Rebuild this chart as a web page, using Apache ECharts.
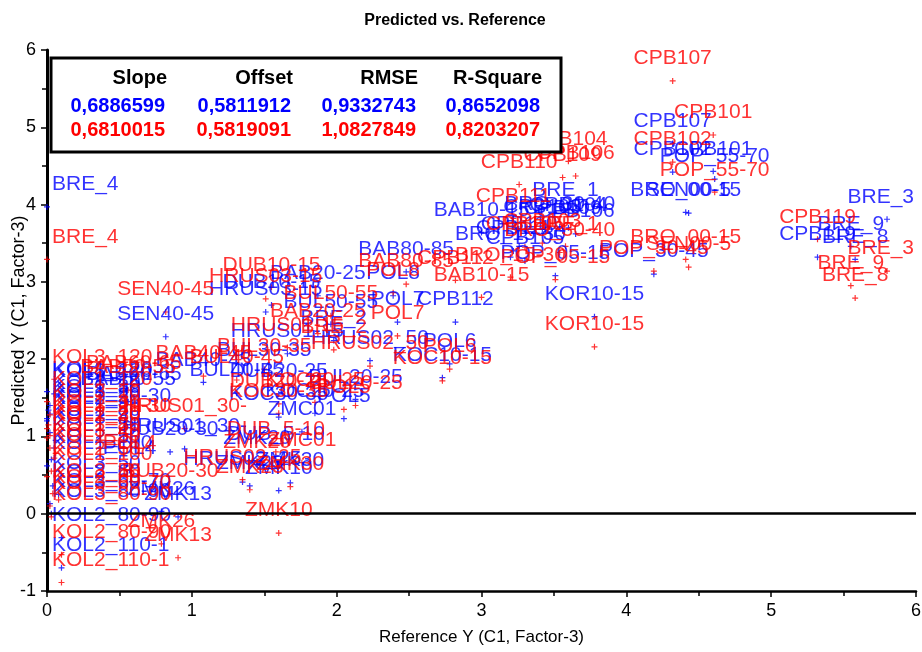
<!DOCTYPE html>
<html>
<head>
<meta charset="utf-8">
<script src="https://cdn.jsdelivr.net/npm/echarts@6/dist/echarts.min.js"></script>
<style>
  html, body { margin: 0; padding: 0; background: #fff; }
  #chart { width: 922px; height: 652px; }
</style>
</head>
<body>
<div id="chart"></div>
<script>
// sample names, reference value (x) and the two predictions (blue / red)
const sampleNames = [
  "CPB107", "CPB101", "CPB102", "POP_55-70", "BRO_00-15", "SEN00-5", "POP_30-45", "KOR10-15",
  "BRE_3", "CPB119", "BRE_9", "BRE_8", "BRE_4", "CPB104", "CPB106", "CPB109",
  "CPB110", "CPB111", "BRE_1", "BAB10-15", "BRO_30-40", "BRO_15-30", "CPB112", "POP_05-15",
  "CPB105", "CPB103", "BAB80-85", "POL8", "BAB20-25", "DUB10-15", "HRUS03-15", "BUL50-55",
  "POL7", "BRE_2", "HRUS01-15", "POL6", "HRUS02_50", "KOC10-15", "ZMC01", "POL5",
  "KOC30-35", "DUB20-25", "BUL20-25", "ZMK10", "ZMK23", "ZMK20", "DUB_5-10", "ZMK30",
  "HRUS02_25", "BUB20-30", "POL4", "HRUS01_30-", "SEN40-45", "KOL3_120", "BAB40-45", "BAB60-65",
  "BUL40-45", "BUL30-35", "BAB50-55", "KOC20-25", "KOL1_20", "KOL3_20-30", "KOL1_100", "KOL3_50",
  "KOL3_60-70", "KOL3_80-90", "KOL2_80-90", "KOL2_110-1", "KOL1_30", "KOL2_30", "KOL1_50", "KOL2_50",
  "KOL1_80", "KOL3_40", "KOL2_60", "KOL3_10", "KOL1_120", "ZMK13", "ZMK26"
];
const referenceY = [
  4.32, 4.60, 4.32, 4.61, 4.41, 4.43, 4.19, 3.78,
  5.80, 5.32, 5.55, 5.58, 0.00, 3.60, 3.65, 3.56,
  3.26, 3.22, 3.58, 3.00, 3.54, 3.20, 2.82, 3.51,
  3.30, 3.42, 2.48, 2.39, 1.87, 1.55, 1.51, 1.96,
  2.42, 1.98, 1.66, 2.78, 2.23, 2.73, 1.76, 2.05,
  1.60, 1.60, 2.13, 1.60, 1.40, 1.45, 1.58, 1.68,
  1.35, 0.85, 0.57, 0.95, 0.82, 0.05, 1.08, 0.60,
  1.31, 1.50, 0.56, 1.85, 0.02, 0.00, 0.00, 0.04,
  0.02, 0.03, 0.10, 0.10, 0.01, 0.00, 0.05, 0.03,
  0.02, 0.06, 0.08, 0.02, 0.00, 0.905, 0.79
];
const predictedBlue = [
  4.79, 4.43, 4.42, 4.33, 3.90, 3.89, 3.10, 2.55,
  3.81, 3.32, 3.46, 3.29, 3.97, 3.70, 3.62, 3.66,
  3.46, 3.40, 3.90, 3.64, 3.71, 3.32, 2.48, 3.08,
  3.27, 3.68, 3.13, 2.82, 2.82, 2.70, 2.61, 2.45,
  2.48, 2.24, 2.07, 1.94, 1.98, 1.76, 1.06, 1.23,
  1.25, 1.55, 1.48, 0.30, 0.36, 0.68, 0.74, 0.40,
  0.41, 0.80, 0.56, 0.84, 2.29, 1.55, 1.70, 1.51,
  1.56, 1.82, 1.45, 1.30, 1.29, 1.23, 0.62, 0.36,
  0.13, 0.00, -0.31, -0.70, 1.34, 1.20, 0.85, 0.70,
  1.05, 0.95, 0.25, 1.40, 1.58, -0.04, 0.03
];
const predictedRed = [
  5.60, 4.90, 4.55, 4.16, 3.29, 3.19, 3.14, 2.16,
  3.14, 3.55, 2.95, 2.79, 3.29, 4.56, 4.37, 4.35,
  4.26, 3.82, 3.46, 2.80, 3.38, 3.06, 3.02, 3.03,
  3.45, 3.50, 2.97, 2.86, 2.33, 2.93, 2.78, 2.56,
  2.30, 2.12, 2.15, 1.87, 1.91, 1.72, 0.66, 1.35,
  1.30, 1.42, 1.40, -0.25, 0.31, 0.64, 0.80, 0.35,
  0.44, 0.26, 0.62, 1.10, 2.61, 1.74, 1.78, 1.65,
  1.73, 1.87, 1.60, 1.44, 1.01, 1.10, 0.48, 0.26,
  0.10, -0.04, -0.53, -0.89, 1.15, 0.98, 0.72, 0.55,
  0.85, 0.78, 0.18, 1.28, 1.45, -0.57, -0.39
];

const statHeaders = ["Slope", "Offset", "RMSE", "R-Square"];
const statsBlue = ["0,6886599", "0,5811912", "0,9332743", "0,8652098"];
const statsRed = ["0,6810015", "0,5819091", "1,0827849", "0,8203207"];

const BLUE = "#0000ff";
const RED = "#ff0000";
const FONT = "Liberation Sans, Arial, Helvetica, sans-serif";
const plusSymbol = "path://M2,0L3,0L3,2L5,2L5,3L3,3L3,5L2,5L2,3L0,3L0,2L2,2Z";

const blueData = sampleNames.map((n, i) => [referenceY[i], predictedBlue[i], n]);
const redData = sampleNames.map((n, i) => [referenceY[i], predictedRed[i], n]);

const chart = echarts.init(document.getElementById("chart"));

// keep labels inside the plot area like the original
function clampLabel(params) {
  const r = params.labelRect;
  const left = 52, right = 914;
  if (r.x < left) {
    return { x: left, y: r.y + r.height / 2, align: "left", verticalAlign: "middle" };
  }
  if (r.x + r.width > right) {
    return { x: right, y: r.y + r.height / 2, align: "right", verticalAlign: "middle" };
  }
  return {};
}

function scatter(name, data, color, extra) {
  return Object.assign({
    name: name,
    type: "scatter",
    data: data,
    symbol: plusSymbol,
    symbolSize: 6,
    itemStyle: { color: color },
    label: {
      show: true,
      position: "top",
      distance: 9,
      formatter: p => p.data[2],
      color: color,
      fontFamily: FONT,
      fontSize: 21
    },
    labelLayout: clampLabel,
    emphasis: { disabled: true }
  }, extra || {});
}

// stats table in the top left corner
const colRight = [167, 293, 418, 542];
const tableText = [];
statHeaders.forEach((h, i) => {
  tableText.push({ type: "text", z: 11, x: colRight[i], y: 78,
    style: { text: h, fill: "#000", font: "bold 20px " + FONT, align: "right", verticalAlign: "middle" } });
  tableText.push({ type: "text", z: 11, x: colRight[i] - 2, y: 106,
    style: { text: statsBlue[i], fill: BLUE, font: "bold 20px " + FONT, align: "right", verticalAlign: "middle" } });
  tableText.push({ type: "text", z: 11, x: colRight[i] - 2, y: 130,
    style: { text: statsRed[i], fill: RED, font: "bold 20px " + FONT, align: "right", verticalAlign: "middle" } });
});

const option = {
  animation: false,
  backgroundColor: "#fff",
  title: {
    text: "Predicted vs. Reference",
    left: 450,
    textAlign: "center",
    top: 8,
    textStyle: { fontFamily: FONT, fontSize: 16, fontWeight: "bold", color: "#000" }
  },
  grid: { left: 47, right: 6, top: 50, bottom: 61, containLabel: false, outerBoundsMode: "none" },
  xAxis: {
    type: "value",
    min: 0, max: 6, interval: 1,
    name: "Reference Y (C1, Factor-3)",
    nameLocation: "middle",
    nameGap: 38,
    nameMoveOverlap: false,
    nameTextStyle: { fontFamily: FONT, fontSize: 17, color: "#000" },
    axisLine: { onZero: false, lineStyle: { color: "#000", width: 2.5 } },
    axisTick: { show: true, length: 6, lineStyle: { color: "#000", width: 1.5 } },
    minorTick: { show: true, splitNumber: 2, length: 5, lineStyle: { color: "#000", width: 1.5 } },
    axisLabel: { fontFamily: FONT, fontSize: 18, color: "#000", margin: 11 },
    splitLine: { show: false }
  },
  yAxis: {
    type: "value",
    min: -1, max: 6, interval: 1,
    name: "Predicted Y (C1, Factor-3)",
    nameLocation: "middle",
    nameGap: 19,
    nameMoveOverlap: false,
    nameTextStyle: { fontFamily: FONT, fontSize: 18, color: "#000" },
    axisLine: { show: true, onZero: false, lineStyle: { color: "#000", width: 3 } },
    axisTick: { show: true, length: 6, lineStyle: { color: "#000", width: 1.5 } },
    minorTick: { show: true, splitNumber: 2, length: 5, lineStyle: { color: "#000", width: 1.5 } },
    axisLabel: { fontFamily: FONT, fontSize: 18, color: "#000", margin: 11 },
    splitLine: { show: false }
  },
  series: [
    scatter("Blue", blueData, BLUE, {
      markLine: {
        silent: true,
        symbol: "none",
        label: { show: false },
        lineStyle: { color: "#000", width: 2.5, type: "solid" },
        data: [{ yAxis: 0 }]
      }
    }),
    scatter("Red", redData, RED)
  ],
  graphic: [
    { type: "rect", z: 10, shape: { x: 51, y: 58, width: 510, height: 94 },
      style: { fill: "#fff", stroke: "#000", lineWidth: 3 } }
  ].concat(tableText)
};

chart.setOption(option);
</script>
</body>
</html>
